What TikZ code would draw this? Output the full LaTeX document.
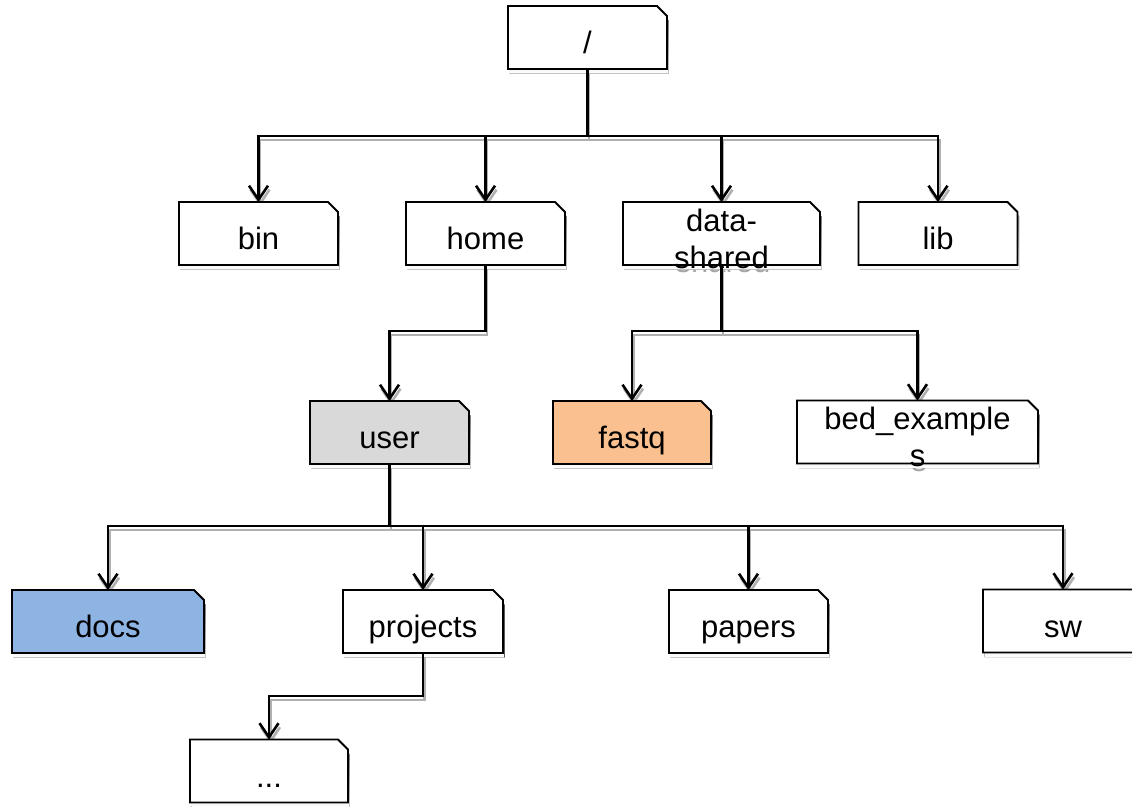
\documentclass[tikz,border=0pt]{standalone}
\usepackage{fontspec}
\setmainfont{Liberation Sans}
\usetikzlibrary{arrows.meta}

\definecolor{shade}{HTML}{A6A6A6}
\definecolor{lineshade}{HTML}{B0B0B0}
\definecolor{userfill}{HTML}{D9D9D9}
\definecolor{fastqfill}{HTML}{FAC090}
\definecolor{docsfill}{HTML}{8EB4E3}

\pgfdeclarelayer{shadows}
\pgfdeclarelayer{boxes}
\pgfdeclarelayer{links}
\pgfsetlayers{shadows,boxes,links,main}

% one-line and two-line labels, baseline placed below the box centre
\newcommand\onel[1]{\raisebox{-16pt}[0pt][0pt]{#1}}
\newcommand\twol[2]{\raisebox{2.5pt}[0pt][0pt]{\begin{tabular}[t]{@{}c@{}}#1\\#2\end{tabular}}}

% a directory node holding its label
\newcommand\fnode[4]{%
  \node[folderbox=#3] (#1) at (#2) {#4};}

% a directory whose label runs out of the box: the label casts a grey shadow too
\newcommand\fnodeshaded[4]{%
  \node[folderbox=#3] (#1) at (#2) {#4};
  \begin{pgfonlayer}{shadows}
    \node[folderbox=#3, text=shade, xshift=1.5pt, yshift=-4.5pt] (#1-shade) at (#2) {#4};
  \end{pgfonlayer}}

% the folder outline with its clipped corner and drop shadow
\newcommand\folder[2][white]{%
  \begin{pgfonlayer}{shadows}
    \fill[shade, transform canvas={xshift=1.5pt, yshift=-4.5pt}]
      (#2.south west) -- (#2.north west) -- ([xshift=-10pt]#2.north east)
      -- ([yshift=-10pt]#2.north east) -- (#2.south east) -- cycle;
  \end{pgfonlayer}
  \begin{pgfonlayer}{boxes}
    \draw[boxline, fill=#1]
      (#2.south west) -- (#2.north west) -- ([xshift=-10pt]#2.north east)
      -- ([yshift=-10pt]#2.north east) -- (#2.south east) -- cycle;
  \end{pgfonlayer}}

% all connectors of the tree
\newcommand\treelinks{%
  \foreach \kid in {bin,home,data,lib} {\draw[link] (root.south) -- (rootbus) -| (\kid.north);}
  \draw[link] (home.south) -- (homebus) -| (user.north);
  \foreach \kid in {fastq,bed} {\draw[link] (data.south) -- (databus) -| (\kid.north);}
  \foreach \kid in {docs,projects,papers,sw} {\draw[link] (user.south) -- (userbus) -| (\kid.north);}
  \draw[link] (projects.south) -- (projbus) -| (dots.north);}

\begin{document}
\begin{tikzpicture}[x=1pt, y=-1pt,
  font=\fontsize{31}{37}\selectfont,
  folderbox/.style={rectangle, inner sep=0pt, outer sep=0pt, minimum height=63pt, minimum width=#1},
  boxline/.style={draw=black, line width=1.8pt, line join=miter},
  tip/.style={-{Straight Barb[length=14pt, width=19pt]}},
  link/.style={},
  linkmain/.style={draw=black, line width=2.6pt, tip},
  linkshade/.style={draw=lineshade, line width=2.6pt, tip, transform canvas={xshift=1.5pt, yshift=-4pt}},
]
\path[use as bounding box] (0,0) rectangle (1132,806);

\fnode{root}{587.5,37.5}{159}{\onel{/}}
\fnode{bin}{258.5,233.5}{159}{\onel{bin}}
\fnode{home}{485.5,233.5}{159}{\onel{home}}
\fnodeshaded{data}{721.5,233.5}{197}{\twol{data-}{shared}}
\fnode{lib}{938,233.5}{159}{\onel{lib}}
\fnode{user}{389.5,432.5}{159}{\onel{user}}
\fnode{fastq}{632,432.5}{158}{\onel{fastq}}
\fnodeshaded{bed}{917.5,432}{241}{\twol{bed\_example}{s}}
\fnode{docs}{108,621.5}{192}{\onel{docs}}
\fnode{projects}{423,621.5}{160}{\onel{projects}}
\fnode{papers}{748.5,621.5}{159}{\onel{papers}}
\fnode{sw}{1063,621}{160}{\onel{sw}}
\fnode{dots}{269,771}{158}{\onel{...}}

\folder{root}
\folder{bin}
\folder{home}
\folder{data}
\folder{lib}
\folder[userfill]{user}
\folder[fastqfill]{fastq}
\folder{bed}
\folder[docsfill]{docs}
\folder{projects}
\folder{papers}
\folder{sw}
\folder{dots}

\path (root.south) ++(0,67) coordinate (rootbus);
\path (home.south) ++(0,66) coordinate (homebus);
\path (data.south) ++(0,66) coordinate (databus);
\path (user.south) ++(0,62) coordinate (userbus);
\path (projects.south) ++(0,43) coordinate (projbus);

\begin{pgfonlayer}{shadows}
  \begin{scope}[link/.style={linkshade}]\treelinks\end{scope}
\end{pgfonlayer}
\begin{pgfonlayer}{links}
  \begin{scope}[link/.style={linkmain}]\treelinks\end{scope}
\end{pgfonlayer}
\end{tikzpicture}
\end{document}
